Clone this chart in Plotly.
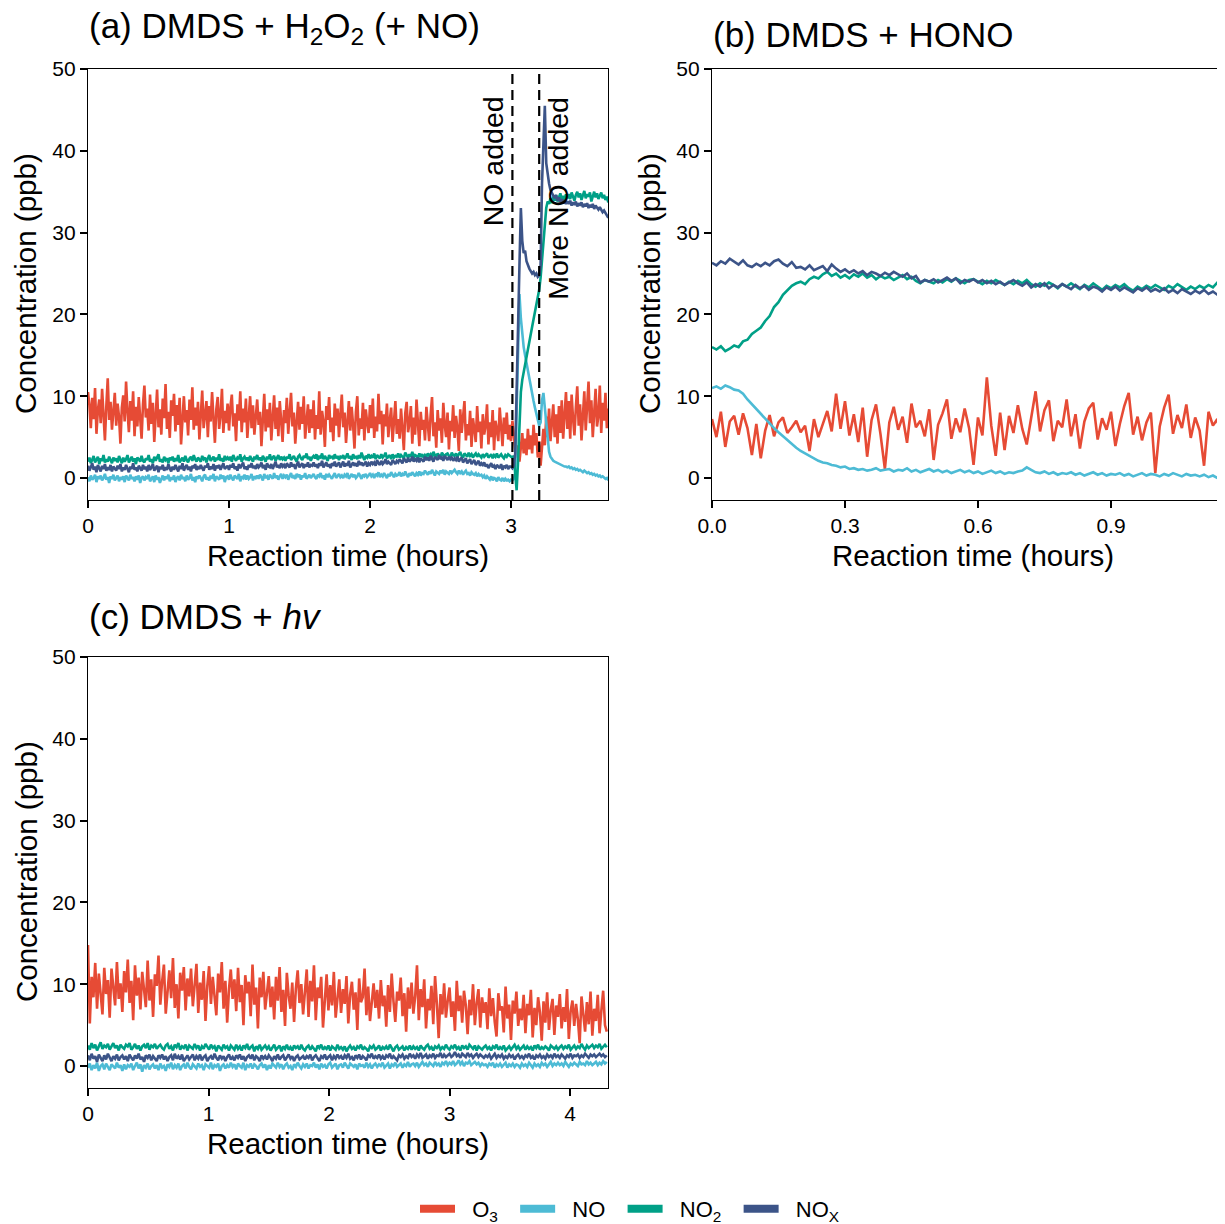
import numpy as np
import plotly.graph_objects as go

# ---------------- Panel (a): DMDS + H2O2 (+ NO)  (sampled every 0.01 h) ----------------
t_a = np.round(np.arange(370) * 0.01, 2)

o3_a = [
    10.5, 8.9, 6.1, 9.8, 7.2, 11.0, 5.4, 8.3, 9.6, 6.7, 10.9, 7.8, 4.6, 8.8, 12.2, 7.1, 9.3, 5.9, 8.0, 10.4,
    6.4, 9.1, 7.5, 4.2, 8.6, 10.1, 6.9, 11.8, 8.2, 5.6, 9.4, 7.0, 10.6, 5.1, 8.7, 6.3, 9.9, 7.7, 4.8, 9.0,
    11.3, 7.4, 8.5, 5.8, 10.2, 6.6, 9.2, 4.4, 7.9, 10.8, 6.2, 8.4, 5.3, 9.7, 7.3, 11.5, 6.0, 8.1, 4.9, 9.5,
    7.6, 10.3, 5.7, 8.9, 6.5, 9.8, 4.1, 7.8, 10.0, 6.8, 8.3, 5.2, 9.6, 7.1, 11.1, 5.9, 8.6, 6.4, 9.3, 4.7,
    8.0, 10.7, 6.1, 7.5, 9.4, 5.0, 8.8, 6.9, 10.5, 7.2, 4.3, 8.4, 9.9, 6.0, 7.7, 10.9, 5.5, 8.2, 6.7, 9.1,
    5.8, 8.7, 10.2, 6.3, 7.9, 4.5, 9.0, 7.0, 10.6, 5.6, 8.5, 6.8, 9.7, 4.9, 7.4, 10.0, 6.1, 8.9, 5.3, 7.6,
    9.6, 6.5, 8.1, 3.9, 7.8, 10.3, 5.7, 8.4, 6.2, 9.2, 4.6, 7.3, 10.1, 6.0, 8.6, 5.1, 9.4, 7.0, 4.4, 8.3,
    6.7, 9.8, 5.4, 7.9, 10.4, 6.3, 8.0, 4.2, 7.5, 9.3, 5.9, 8.7, 6.6, 10.0, 4.8, 7.2, 9.0, 5.5, 8.4, 6.1,
    9.5, 4.7, 7.7, 6.0, 10.6, 5.3, 8.2, 6.9, 3.8, 8.8, 7.1, 9.9, 5.6, 7.4, 4.5, 9.1, 6.4, 8.5, 5.0, 7.8,
    10.2, 6.2, 8.0, 4.3, 7.6, 9.4, 5.8, 8.7, 6.5, 3.6, 8.1, 10.0, 5.2, 7.3, 6.0, 9.2, 4.6, 8.4, 6.8, 5.5,
    8.9, 6.1, 9.7, 4.9, 7.5, 5.7, 10.3, 6.6, 8.2, 4.1, 7.8, 6.3, 9.1, 5.0, 7.0, 8.6, 4.4, 6.9, 9.4, 5.4,
    7.2, 4.8, 8.5, 6.0, 3.4, 7.9, 9.3, 5.6, 6.7, 8.8, 4.2, 7.4, 5.3, 9.6, 6.4, 3.9, 8.1, 5.9, 7.1, 4.6,
    8.7, 6.2, 4.5, 7.7, 9.9, 5.1, 6.8, 3.7, 8.3, 5.8, 7.3, 4.3, 9.2, 6.5, 5.0, 8.0, 3.5, 7.0, 5.7, 8.9,
    4.9, 7.6, 6.1, 3.3, 8.4, 5.5, 7.1, 9.4, 4.6, 6.6, 5.2, 8.2, 3.8, 7.3, 6.0, 4.4, 8.8, 5.6, 6.9, 3.6,
    7.8, 5.3, 6.4, 9.0, 4.1, 6.8, 5.0, 8.3, 3.4, 7.0, 5.9, 4.5, 8.6, 6.2, 3.9, 7.4, 5.4, 8.0, 4.7, 6.5,
    4.5, 7.0, 5.0, 3.5, 2.5, 4.0, 2.0, 3.5, 5.5, 3.0, 4.8, 2.8, 6.0, 3.5, 5.2, 3.0, 6.5, 4.0, 5.5, 2.5,
    4.5, 1.5, 3.5, 6.0, 4.0, 7.5, 5.0, 8.5, 4.5, 7.0, 9.0, 5.0, 7.8, 4.2, 8.8, 5.5, 9.5, 4.8, 7.2, 10.5,
    6.0, 9.4, 4.8, 10.2, 7.3, 5.2, 8.6, 11.2, 6.4, 9.0, 4.6, 7.8, 10.6, 5.8, 8.2, 11.8, 6.7, 9.5, 5.0, 8.8,
    10.9, 6.3, 7.6, 11.3, 5.5, 9.2, 7.0, 10.4, 6.1, 8.5,
]

no_a = [
    0.1, -0.4, 0.3, -0.2, 0.0, 0.4, -0.5, 0.2, -0.1, 0.3, -0.3, 0.0, 0.5, -0.2, 0.1, -0.6, 0.2, -0.1, 0.4, -0.3,
    0.0, 0.3, -0.4, 0.1, -0.2, 0.2, -0.5, 0.3, 0.0, -0.3, 0.4, -0.1, 0.1, -0.4, 0.2, -0.2, 0.3, -0.6, 0.0, 0.2,
    -0.3, 0.1, -0.1, 0.4, -0.4, 0.0, 0.2, -0.5, 0.3, -0.2, 0.1, -0.6, 0.0, 0.3, -0.3, 0.2, -0.1, 0.4, -0.4, 0.1,
    -0.2, 0.3, -0.5, 0.0, 0.2, -0.3, 0.4, -0.1, 0.1, -0.4, 0.3, -0.2, 0.0, 0.5, -0.3, 0.1, -0.5, 0.2, -0.1, 0.3,
    0.0, -0.4, 0.2, 0.4, -0.2, 0.1, -0.3, 0.3, -0.1, 0.5, -0.4, 0.2, 0.0, -0.2, 0.4, -0.1, 0.3, -0.5, 0.1, 0.2,
    -0.2, 0.4, 0.0, -0.3, 0.3, 0.1, -0.1, 0.5, -0.4, 0.2, 0.0, 0.4, -0.2, 0.3, -0.1, 0.1, 0.5, -0.3, 0.2, 0.0,
    0.3, -0.1, 0.4, 0.1, -0.3, 0.5, 0.0, 0.2, -0.2, 0.4, 0.1, -0.1, 0.6, 0.0, 0.3, -0.2, 0.2, 0.5, -0.1, 0.3,
    0.1, 0.4, -0.2, 0.3, 0.6, 0.0, 0.2, -0.1, 0.5, 0.2, 0.4, -0.2, 0.3, 0.1, 0.6, -0.1, 0.2, 0.4, 0.0, 0.3,
    0.5, 0.1, -0.1, 0.4, 0.2, 0.6, 0.0, 0.3, -0.2, 0.5, 0.1, 0.4, 0.2, -0.1, 0.3, 0.6, 0.0, 0.2, 0.5, 0.1,
    0.3, 0.0, 0.4, 0.2, 0.6, -0.1, 0.3, 0.5, 0.1, 0.4, 0.0, 0.2, 0.6, 0.3, -0.1, 0.4, 0.2, 0.5, 0.1, 0.3,
    0.6, 0.2, 0.4, 0.0, 0.5, 0.3, 0.7, 0.1, 0.4, 0.2, 0.6, 0.3, 0.0, 0.5, 0.2, 0.7, 0.4, 0.1, 0.5, 0.3,
    0.4, 0.7, 0.2, 0.5, 0.3, 0.8, 0.4, 0.1, 0.6, 0.3, 0.7, 0.5, 0.2, 0.6, 0.4, 0.8, 0.3, 0.6, 0.5, 0.9,
    0.6, 0.4, 0.8, 0.5, 1.0, 0.6, 0.3, 0.8, 0.7, 0.5, 0.9, 0.6, 1.0, 0.4, 0.8, 0.7, 0.5, 0.9, 0.6, 0.8,
    1.0, 0.7, 0.5, 0.9, 0.6, 0.8, 0.4, 0.7, 0.9, 0.5, 0.6, 0.3, 0.7, 0.5, 0.4, 0.6, 0.2, 0.5, 0.3, 0.4,
    0.1, 0.3, -0.1, 0.2, 0.0, -0.2, 0.2, -0.3, 0.0, -0.1, -0.4, 0.1, -0.2, -0.3, 0.0, -0.4, -0.1, -0.3, -0.2, -0.4,
    -0.2, -0.3, -0.1, 0.5, 8.0, 17.0, 22.5, 19.5, 17.5, 16.0, 15.0, 14.0, 13.0, 12.0, 11.0, 10.2, 9.4, 8.6, 7.8, 7.0,
    6.4, 6.8, 9.5, 10.4, 8.5, 6.0, 4.2, 3.2, 2.6, 2.3, 2.1, 2.0, 1.9, 1.8, 1.7, 1.6, 1.6, 1.5, 1.4, 1.4,
    1.3, 1.4, 1.2, 1.3, 1.1, 1.2, 1.0, 1.1, 0.9, 1.0, 0.9, 0.7, 0.9, 0.8, 0.6, 0.7, 0.5, 0.6, 0.4, 0.5,
    0.3, 0.4, 0.2, 0.3, 0.1, 0.2, 0.0, -0.1, 0.0, -0.3,
]

no2_a = [
    2.0, 2.5, 1.8, 2.3, 2.7, 1.9, 2.2, 2.6, 1.7, 2.4, 2.1, 2.8, 1.9, 2.3, 2.0, 2.6, 2.2, 1.8, 2.5, 2.1,
    2.4, 1.9, 2.7, 2.2, 1.8, 2.5, 2.0, 2.3, 2.8, 1.9, 2.2, 2.6, 2.0, 2.4, 1.7, 2.5, 2.3, 2.0, 2.7, 2.1,
    1.9, 2.4, 2.2, 2.8, 2.0, 2.3, 1.8, 2.6, 2.1, 2.5, 2.9, 2.0, 2.3, 1.9, 2.6, 2.2, 2.4, 1.8, 2.5, 2.2,
    2.6, 2.0, 2.4, 2.1, 2.8, 1.9, 2.3, 2.5, 2.0, 2.7, 2.2, 1.9, 2.4, 2.6, 2.1, 2.8, 2.3, 2.0, 2.5, 2.2,
    2.0, 2.7, 2.3, 2.5, 1.9, 2.4, 2.8, 2.1, 2.3, 2.6, 2.0, 2.5, 2.2, 2.9, 2.1, 2.4, 2.0, 2.7, 2.3, 2.5,
    2.2, 2.6, 2.0, 2.8, 2.4, 2.1, 2.5, 2.3, 2.9, 2.0, 2.4, 2.6, 2.2, 2.5, 2.1, 2.7, 2.3, 2.0, 2.6, 2.4,
    2.8, 2.2, 2.5, 2.1, 2.7, 2.4, 2.0, 2.6, 2.3, 2.9, 2.2, 2.5, 2.7, 2.1, 2.4, 2.8, 2.2, 2.6, 2.3, 2.5,
    2.1, 2.6, 2.4, 2.9, 2.2, 2.5, 2.7, 2.3, 2.0, 2.6, 2.8, 2.4, 2.2, 2.7, 2.5, 3.0, 2.3, 2.6, 2.1, 2.5,
    2.7, 2.4, 2.9, 2.2, 2.6, 2.5, 3.0, 2.3, 2.7, 2.4, 2.1, 2.8, 2.5, 2.6, 2.3, 2.9, 2.4, 2.7, 2.2, 2.6,
    2.5, 2.8, 2.3, 2.6, 3.0, 2.4, 2.7, 2.2, 2.9, 2.5, 2.6, 2.3, 2.8, 2.4, 3.1, 2.6, 2.2, 2.7, 2.5, 2.9,
    2.4, 2.7, 2.5, 3.0, 2.3, 2.8, 2.6, 2.4, 2.9, 2.5, 2.7, 3.1, 2.4, 2.6, 2.8, 2.3, 2.9, 2.5, 2.7, 2.6,
    3.0, 2.5, 2.8, 2.6, 2.4, 3.1, 2.7, 2.5, 2.9, 2.6, 3.2, 2.5, 2.8, 2.7, 2.4, 3.0, 2.6, 2.9, 2.5, 2.8,
    2.6, 3.0, 2.7, 2.9, 2.5, 3.2, 2.8, 2.6, 3.0, 2.7, 2.5, 3.1, 2.8, 2.6, 2.9, 3.0, 2.7, 2.5, 3.1, 2.8,
    2.7, 3.0, 2.6, 2.9, 3.2, 2.7, 2.5, 3.0, 2.8, 2.6, 3.1, 2.7, 2.9, 2.5, 2.8, 3.0, 2.6, 2.9, 2.7, 2.5,
    2.9, 2.6, 2.8, 3.0, 2.5, 2.7, 2.9, 2.4, 2.8, 2.6, 3.0, 2.5, 2.7, 2.9, 2.6, 2.4, 2.8, 2.6, 2.9, 2.7,
    2.6, 2.5, 2.7, 0.5, -1.5, 2.0, 7.0, 10.5, 12.0, 13.0, 14.0, 14.9, 15.8, 16.7, 17.6, 18.5, 19.4, 20.3, 21.2, 22.1,
    23.0, 24.5, 26.5, 29.0, 31.5, 33.0, 33.8, 33.5, 34.2, 33.6, 34.4, 33.9, 34.6, 33.8, 34.3, 34.8, 34.0, 34.5, 33.9, 34.7,
    34.2, 34.7, 34.1, 34.9, 34.4, 33.9, 34.6, 35.0, 34.3, 34.8, 34.0, 34.5, 35.1, 34.2, 34.7, 34.4, 34.9, 33.8, 34.6, 35.0,
    34.3, 34.8, 34.1, 34.5, 34.9, 34.2, 34.6, 34.0, 34.4, 33.7,
]

nox_a = [
    1.5, 0.9, 1.3, 1.8, 1.0, 1.4, 0.7, 1.6, 1.2, 0.8, 1.5, 1.1, 1.7, 0.9, 1.3, 1.0, 1.6, 0.8, 1.4, 1.2,
    0.9, 1.5, 1.1, 1.7, 0.8, 1.3, 1.0, 1.6, 1.2, 0.7, 1.4, 1.1, 1.8, 1.0, 1.3, 0.8, 1.5, 1.2, 0.9, 1.6,
    1.1, 1.4, 0.8, 1.6, 1.0, 1.3, 1.7, 0.9, 1.2, 1.5, 0.7, 1.4, 1.1, 1.6, 0.9, 1.3, 1.0, 1.7, 1.2, 0.8,
    1.4, 1.0, 1.6, 1.2, 0.8, 1.5, 1.1, 1.8, 0.9, 1.3, 1.6, 1.0, 1.4, 0.8, 1.5, 1.2, 1.7, 1.0, 1.3, 1.1,
    1.6, 1.2, 0.9, 1.5, 1.3, 1.8, 1.0, 1.4, 1.1, 1.7, 0.9, 1.5, 1.2, 1.6, 1.0, 1.4, 1.8, 1.1, 1.3, 1.5,
    1.0, 1.6, 1.3, 1.8, 1.1, 1.4, 0.9, 1.7, 1.2, 1.5, 1.9, 1.1, 1.4, 1.0, 1.6, 1.3, 1.8, 1.2, 1.5, 1.1,
    1.7, 1.3, 1.5, 1.9, 1.2, 1.6, 1.0, 1.8, 1.4, 1.3, 1.7, 1.1, 1.5, 2.0, 1.3, 1.6, 1.2, 1.8, 1.4, 1.6,
    1.2, 1.8, 1.5, 1.3, 1.9, 1.4, 1.7, 1.1, 1.6, 2.0, 1.3, 1.5, 1.8, 1.2, 1.7, 1.4, 1.9, 1.3, 1.6, 1.5,
    1.9, 1.4, 1.7, 1.2, 1.8, 1.5, 2.1, 1.3, 1.6, 1.9, 1.4, 1.7, 1.2, 1.8, 1.5, 2.0, 1.4, 1.6, 1.9, 1.3,
    1.7, 2.0, 1.4, 1.8, 1.5, 2.1, 1.3, 1.7, 1.9, 1.5, 1.8, 1.4, 2.1, 1.6, 1.9, 1.5, 1.7, 2.0, 1.4, 1.8,
    1.6, 2.0, 1.7, 1.9, 1.5, 2.2, 1.8, 1.6, 2.1, 1.7, 1.9, 2.3, 1.7, 2.0, 1.8, 1.6, 2.2, 1.9, 1.7, 2.1,
    1.9, 2.3, 2.0, 1.8, 2.4, 2.1, 1.9, 2.5, 2.0, 2.2, 2.6, 2.0, 2.3, 2.1, 2.5, 1.9, 2.4, 2.2, 2.0, 2.6,
    2.2, 2.5, 2.1, 2.7, 2.3, 2.0, 2.6, 2.4, 2.2, 2.8, 2.3, 2.5, 2.1, 2.7, 2.4, 2.2, 2.6, 2.3, 2.5, 2.1,
    2.4, 2.2, 2.6, 2.0, 2.3, 2.5, 1.9, 2.2, 2.4, 1.8, 2.1, 2.3, 1.7, 2.0, 2.2, 1.6, 1.9, 2.1, 1.5, 1.8,
    1.6, 1.9, 1.4, 1.7, 1.2, 1.6, 1.8, 1.3, 1.5, 1.1, 1.6, 1.4, 1.2, 1.7, 1.0, 1.5, 1.3, 1.6, 1.1, 1.4,
    1.4, 1.2, 1.5, 3.0, 12.0, 21.0, 26.0, 33.0, 29.0, 27.5, 27.8, 26.5, 26.0, 25.6, 25.3, 25.0, 25.2, 24.8, 25.0, 24.6,
    24.8, 26.0, 36.0, 42.0, 45.5, 38.5, 37.0, 36.0, 35.2, 34.8, 34.5, 34.2, 34.6, 33.9, 34.3, 33.8, 34.1, 33.6, 34.0, 33.5,
    33.8, 33.5, 33.9, 33.3, 33.7, 33.4, 33.8, 33.2, 33.6, 33.3, 33.7, 33.1, 33.5, 33.2, 33.6, 33.0, 33.4, 33.1, 33.5, 32.9,
    33.3, 33.0, 32.8, 33.1, 32.7, 32.5, 32.7, 32.3, 32.1, 31.8,
]

no_added_times = [3.01, 3.20]
no_added_labels = ["NO added", "More NO added"]
no_added_label_x = [2.872, 3.333]

# ---------------- Panel (b): DMDS + HONO  (sampled every 0.01 h) ----------------
t_b = np.round(np.arange(118) * 0.01, 2)

o3_b = [
    7.2, 5.0, 8.1, 3.8, 6.9, 7.6, 5.3, 7.9, 6.1, 2.8,
    6.6, 2.4, 5.8, 7.7, 5.1, 6.8, 7.4, 5.5, 6.2, 7.0,
    5.6, 6.4, 3.3, 7.2, 5.0, 6.7, 8.2, 5.7, 10.3, 6.0,
    9.4, 5.2, 7.8, 4.4, 8.6, 2.6, 7.1, 9.0, 5.4, 1.1,
    6.8, 8.7, 5.9, 7.5, 4.3, 9.1, 6.2, 7.0, 5.1, 8.4,
    2.2, 6.5, 7.9, 9.6, 4.8, 7.3, 5.6, 8.5, 6.1, 1.6,
    7.4, 5.2, 12.3, 6.4, 2.7, 8.0, 3.4, 7.6, 5.5, 8.9,
    6.0, 4.1, 7.2, 10.6, 5.7, 8.3, 9.5, 4.5, 7.0, 6.2,
    9.6, 5.1, 7.8, 3.6, 6.9, 8.5, 9.2, 4.7, 7.3, 5.9,
    8.1, 3.9, 6.6, 8.8, 10.4, 5.3, 7.5, 4.6, 6.8, 8.0,
    0.6, 6.3, 8.6, 10.2, 5.4, 7.7, 6.1, 9.0, 4.9, 7.4,
    5.8, 1.5, 8.1, 6.4, 7.2, 4.3, 6.9, 5.2,
]

no_b = [
    11.0, 11.2, 10.9, 11.3, 11.1, 10.8, 10.7, 10.3, 9.6, 9.0,
    8.4, 7.9, 7.2, 6.7, 6.1, 5.6, 5.1, 4.6, 4.2, 3.7,
    3.3, 3.0, 2.6, 2.4, 2.1, 1.9, 1.8, 1.6, 1.5, 1.3,
    1.4, 1.1, 1.2, 1.0, 1.1, 0.9, 1.0, 1.2, 0.9, 1.0,
    1.1, 0.8, 1.0, 0.9, 1.2, 0.8, 1.0, 0.7, 0.9, 1.1,
    0.8, 1.0, 0.7, 0.9, 0.6, 0.8, 1.0, 0.7, 0.9, 0.6,
    0.8, 0.5, 0.7, 0.9, 0.6, 0.8, 0.5, 0.7, 0.6, 0.8,
    0.9, 1.3, 1.0, 0.7, 0.6, 0.8, 0.5, 0.7, 0.4, 0.6,
    0.5, 0.7, 0.4, 0.6, 0.3, 0.5, 0.7, 0.4, 0.6, 0.3,
    0.5, 0.4, 0.6, 0.3, 0.5, 0.2, 0.4, 0.6, 0.3, 0.5,
    0.4, 0.2, 0.5, 0.3, 0.6, 0.4, 0.2, 0.5, 0.3, 0.4,
    0.2, 0.4, 0.1, 0.3, 0.0, 0.2, -0.1, 0.1,
]

no2_b = [
    16.0, 15.7, 16.1, 15.5, 15.8, 16.2, 16.0, 16.7, 16.9, 17.6,
    18.0, 18.4, 19.2, 19.8, 20.9, 21.5, 22.4, 22.9, 23.5, 23.8,
    24.0, 23.7, 24.3, 24.6, 24.4, 24.9, 25.2, 24.7, 25.0, 24.5,
    24.8, 24.4, 24.9, 24.6, 25.0, 24.5, 24.8, 24.3, 24.7, 24.4,
    24.6, 24.2, 24.5, 24.8, 24.3, 24.6, 24.1, 23.8, 24.2, 24.0,
    23.8, 24.2, 23.9, 24.3, 24.0, 24.4, 24.1, 23.8, 24.2, 24.3,
    24.0, 23.7, 24.1, 23.8, 24.2, 23.9, 23.6, 24.0, 23.7, 24.1,
    23.8, 24.2, 23.7, 23.4, 23.8, 23.5, 23.9, 23.6, 23.2, 23.7,
    23.4, 23.8, 23.5, 23.1, 23.6, 23.3, 23.8, 23.4, 23.0, 23.5,
    23.2, 23.6, 23.3, 23.7, 23.2, 22.9, 23.4, 23.1, 23.5, 23.2,
    23.6, 23.3, 23.0, 23.5, 23.2, 23.7, 23.3, 23.0, 23.4, 23.1,
    23.5, 23.2, 23.6, 23.3, 23.9, 23.4, 23.6, 23.2,
]

nox_b = [
    26.3, 26.0, 26.5, 26.2, 26.8, 26.4, 26.1, 26.6, 26.0, 25.8,
    26.2, 25.9, 26.3, 26.0, 26.5, 26.7, 26.2, 25.9, 26.4, 25.7,
    25.8, 25.5, 26.0, 25.4, 25.7, 25.9, 25.3, 26.1, 25.6, 25.2,
    25.5, 25.1, 25.4, 25.0, 25.3, 24.8, 25.2, 25.0, 24.7, 25.1,
    24.8, 25.2, 24.9, 24.6, 25.0, 24.4, 24.7, 23.9, 24.2, 24.0,
    24.3, 23.9, 24.2, 24.5, 24.1, 24.4, 23.8, 24.2, 24.0, 24.3,
    23.9, 24.2, 23.8, 24.1, 23.7, 24.0, 23.6, 23.9, 24.2, 23.8,
    23.5, 23.9, 23.3, 23.7, 23.4, 23.8, 23.2, 23.6, 23.3, 23.7,
    23.4, 23.1, 23.6, 23.2, 23.5, 23.0, 23.4, 23.2, 22.8, 23.3,
    23.0, 23.4, 22.9, 23.3, 23.0, 22.7, 23.2, 22.9, 23.3, 22.8,
    23.1, 22.8, 23.2, 22.7, 23.0, 22.6, 23.1, 22.8, 22.5, 22.9,
    22.6, 23.0, 22.5, 22.8, 22.4, 22.7, 22.3, 22.6,
]

# ---------------- Panel (c): DMDS + hv  (sampled every 0.015 h) ----------------
t_c = np.round(np.arange(288) * 0.015, 3)

o3_c = [
    14.8, 5.2, 10.9, 8.4, 12.6, 7.0, 11.3, 9.1, 6.3, 12.0, 8.8, 10.5, 5.9, 11.9, 9.6, 7.4, 12.7, 8.2, 10.1, 6.6,
    11.6, 9.0, 13.0, 7.7, 10.4, 5.6, 12.3, 8.6, 10.8, 6.9, 11.5, 9.3, 7.2, 12.9, 8.0, 10.6, 6.0, 11.2, 9.8, 13.5,
    7.5, 10.3, 12.4, 6.4, 9.5, 11.7, 8.3, 13.2, 7.1, 10.0, 5.8, 11.4, 9.2, 12.1, 6.8, 10.7, 8.5, 11.9, 7.3, 9.7,
    12.5, 6.5, 10.2, 8.1, 11.6, 5.5, 9.8, 12.2, 7.6, 10.9, 8.7, 6.2, 11.3, 9.0, 12.7, 7.0, 10.4, 5.3, 9.4, 11.8,
    8.2, 10.6, 6.7, 12.0, 7.8, 9.9, 5.0, 11.1, 8.9, 10.3, 6.1, 12.4, 7.5, 9.6, 4.6, 10.8, 8.4, 11.5, 6.9, 9.2,
    11.0, 7.2, 9.7, 5.7, 10.9, 8.0, 12.1, 6.6, 9.3, 4.9, 11.4, 8.6, 7.0, 10.2, 5.4, 9.5, 11.7, 7.7, 10.0, 6.3,
    9.1, 11.8, 6.0, 10.4, 7.9, 12.3, 5.6, 9.6, 8.3, 10.9, 4.7, 8.8, 11.2, 6.8, 9.9, 7.4, 11.5, 5.9, 8.5, 10.6,
    6.5, 9.4, 7.6, 11.0, 5.2, 8.7, 10.3, 6.9, 9.0, 4.4, 10.7, 7.8, 8.4, 11.9, 6.2, 9.7, 5.5, 8.1, 10.1, 7.1,
    9.3, 5.8, 10.5, 7.3, 8.6, 4.8, 9.9, 6.6, 11.3, 7.9, 5.4, 9.1, 8.0, 10.8, 6.1, 8.9, 4.2, 9.6, 7.0, 10.2,
    6.4, 8.5, 12.3, 5.6, 9.4, 7.2, 10.6, 4.6, 8.2, 6.8, 9.8, 5.1, 11.0, 7.6, 3.4, 8.8, 6.3, 10.1, 5.9, 8.0,
    9.6, 6.0, 7.9, 4.3, 10.4, 6.7, 8.6, 5.3, 9.2, 7.4, 3.9, 8.1, 6.2, 10.0, 5.0, 7.7, 9.4, 4.7, 8.4, 6.5,
    7.8, 4.5, 9.5, 6.1, 8.3, 5.4, 3.6, 8.9, 6.8, 7.3, 4.1, 9.7, 5.8, 7.5, 3.2, 8.0, 6.4, 9.1, 4.9, 7.0,
    5.6, 8.7, 4.0, 7.6, 6.2, 9.3, 3.5, 7.1, 5.0, 8.4, 6.6, 3.1, 7.9, 5.3, 9.0, 4.4, 6.9, 8.2, 3.8, 7.4,
    6.0, 8.8, 4.6, 7.2, 5.4, 9.4, 3.3, 6.7, 8.0, 4.9, 7.6, 5.7, 2.8, 8.5, 6.3, 4.2, 7.8, 5.1, 9.1, 3.7,
    7.0, 5.5, 8.7, 4.0, 6.8, 9.2, 5.0, 4.2,
]

no_c = [
    -0.2, 0.3, -0.5, 0.1, -0.3, 0.4, -0.6, 0.0, 0.2, -0.4, 0.3, -0.1, -0.5, 0.2, 0.0, -0.3, 0.4, -0.2, 0.1, -0.6,
    0.2, -0.4, 0.1, -0.1, 0.3, -0.5, 0.0, 0.4, -0.3, 0.2, -0.7, 0.1, -0.2, 0.3, -0.4, 0.0, 0.2, -0.3, 0.1, -0.5,
    0.3, -0.2, 0.0, -0.6, 0.2, -0.1, 0.4, -0.4, 0.1, -0.2, 0.3, -0.5, 0.0, 0.2, -0.3, 0.4, -0.1, -0.4, 0.2, 0.0,
    -0.3, 0.3, -0.1, 0.1, -0.5, 0.2, 0.0, -0.2, 0.4, -0.4, 0.1, -0.1, 0.3, -0.6, 0.0, 0.2, -0.3, 0.1, -0.2, 0.4,
    -0.1, 0.2, -0.4, 0.3, 0.0, -0.2, 0.4, -0.5, 0.1, -0.1, 0.3, -0.3, 0.2, 0.0, -0.4, 0.1, 0.3, -0.2, 0.2, -0.5,
    0.1, -0.3, 0.3, 0.0, -0.2, 0.4, -0.1, 0.2, -0.4, 0.1, 0.3, -0.2, 0.0, -0.5, 0.2, -0.1, 0.4, 0.0, -0.3, 0.2,
    -0.1, 0.3, -0.3, 0.1, 0.0, 0.4, -0.2, 0.2, -0.4, 0.3, -0.1, 0.1, -0.3, 0.2, 0.4, -0.2, 0.0, 0.3, -0.4, 0.1,
    0.2, -0.2, 0.4, 0.0, -0.3, 0.3, 0.1, -0.1, 0.2, -0.4, 0.3, 0.0, 0.1, -0.2, 0.4, -0.1, 0.2, -0.3, 0.1, 0.3,
    -0.1, 0.2, 0.0, 0.4, -0.2, 0.1, 0.3, -0.3, 0.2, 0.0, 0.4, -0.1, 0.1, 0.3, -0.2, 0.2, 0.0, 0.5, -0.1, 0.2,
    0.3, 0.0, 0.4, -0.1, 0.2, 0.5, 0.1, 0.3, -0.1, 0.4, 0.2, 0.0, 0.5, 0.1, 0.3, -0.1, 0.4, 0.2, 0.6, 0.1,
    0.4, 0.2, 0.6, 0.1, 0.3, 0.7, 0.2, 0.5, 0.0, 0.4, 0.3, 0.6, 0.1, 0.3, 0.5, 0.2, 0.4, 0.0, 0.3, 0.1,
    0.2, -0.1, 0.3, 0.1, 0.4, -0.2, 0.2, 0.0, 0.3, -0.1, 0.1, 0.4, -0.2, 0.2, 0.0, 0.3, -0.1, 0.2, 0.1, -0.2,
    0.3, 0.0, 0.2, -0.1, 0.4, 0.1, -0.2, 0.3, 0.0, 0.2, -0.1, 0.4, 0.1, 0.3, -0.1, 0.2, 0.5, 0.0, 0.3, 0.1,
    0.4, 0.1, 0.3, 0.0, 0.5, 0.2, -0.1, 0.3, 0.1, 0.4, 0.2, 0.0, 0.5, 0.2, 0.3, 0.1, 0.6, 0.2, 0.4, 0.1,
    0.3, 0.5, 0.1, 0.4, 0.2, 0.6, 0.3, 0.5,
]

no2_c = [
    2.5, 2.0, 2.8, 2.2, 2.6, 1.9, 2.4, 2.9, 2.1, 2.5, 2.3, 2.7, 2.0, 2.4, 2.8, 2.2, 2.5, 1.9, 2.6, 2.3,
    2.1, 2.6, 2.4, 2.8, 2.0, 2.3, 2.7, 2.1, 2.5, 1.9, 2.4, 2.6, 2.2, 2.8, 2.0, 2.5, 2.3, 2.7, 2.1, 2.4,
    2.6, 2.2, 2.0, 2.5, 2.7, 2.1, 2.4, 1.9, 2.6, 2.3, 2.8, 2.0, 2.4, 2.2, 2.6, 1.9, 2.5, 2.3, 2.1, 2.7,
    2.2, 2.5, 1.9, 2.4, 2.1, 2.7, 2.3, 2.0, 2.6, 2.2, 2.4, 1.8, 2.5, 2.3, 2.0, 2.6, 2.2, 2.4, 1.9, 2.5,
    2.3, 2.0, 2.6, 2.1, 2.4, 1.9, 2.5, 2.2, 2.7, 2.0, 2.3, 2.5, 1.8, 2.4, 2.1, 2.6, 2.0, 2.3, 2.5, 2.1,
    2.4, 1.9, 2.2, 2.6, 2.0, 2.3, 2.5, 1.8, 2.4, 2.1, 2.6, 2.0, 2.3, 1.9, 2.5, 2.2, 2.4, 2.0, 2.6, 2.1,
    1.9, 2.3, 2.5, 2.0, 2.4, 2.1, 1.8, 2.5, 2.2, 2.6, 2.0, 2.3, 2.1, 2.5, 1.9, 2.4, 2.2, 2.0, 2.6, 2.1,
    2.3, 2.0, 2.4, 1.8, 2.2, 2.5, 2.1, 2.3, 1.9, 2.4, 2.2, 2.6, 2.0, 2.3, 2.1, 1.8, 2.4, 2.2, 2.5, 2.0,
    2.2, 2.5, 1.9, 2.3, 2.1, 2.4, 2.0, 2.6, 2.2, 1.8, 2.3, 2.5, 2.0, 2.2, 2.4, 1.9, 2.3, 2.1, 2.5, 2.0,
    2.4, 2.1, 2.3, 1.9, 2.5, 2.2, 2.0, 2.4, 2.6, 2.1, 2.3, 1.9, 2.4, 2.2, 2.5, 2.0, 2.3, 2.1, 2.6, 2.2,
    2.0, 2.4, 2.2, 2.6, 2.1, 2.3, 1.9, 2.5, 2.2, 2.4, 2.0, 2.6, 2.3, 2.1, 2.5, 1.9, 2.4, 2.2, 2.0, 2.3,
    2.5, 2.1, 2.3, 1.9, 2.4, 2.2, 2.6, 2.0, 2.3, 2.1, 2.5, 1.9, 2.2, 2.4, 2.0, 2.3, 2.6, 2.1, 2.4, 2.0,
    2.2, 2.5, 2.0, 2.4, 2.1, 2.3, 1.9, 2.5, 2.2, 2.6, 2.0, 2.3, 2.1, 2.4, 2.2, 1.9, 2.5, 2.3, 2.1, 2.4,
    2.0, 2.3, 2.5, 2.1, 2.4, 2.2, 2.6, 2.0, 2.3, 2.5, 2.1, 2.4, 2.2, 2.7, 2.3, 2.0, 2.5, 2.2, 2.4, 2.6,
    2.2, 2.5, 2.3, 2.7, 2.1, 2.4, 2.6, 2.3,
]

nox_c = [
    1.3, 0.7, 1.5, 0.9, 1.2, 0.5, 1.4, 1.0, 0.6, 1.3, 0.8, 1.5, 1.1, 0.6, 1.2, 0.9, 1.4, 0.7, 1.1, 1.3,
    0.8, 1.2, 0.6, 1.4, 1.0, 0.7, 1.3, 0.9, 1.5, 0.8, 1.1, 0.5, 1.3, 1.0, 1.4, 0.7, 1.2, 0.9, 0.6, 1.3,
    1.0, 1.4, 0.8, 1.2, 0.6, 1.1, 1.3, 0.7, 1.5, 0.9, 1.2, 0.8, 1.4, 0.6, 1.0, 1.3, 0.8, 1.1, 1.4, 0.7,
    1.2, 0.9, 1.4, 0.7, 1.1, 1.3, 0.6, 1.0, 1.2, 0.8, 1.5, 1.0, 0.7, 1.3, 0.9, 1.2, 0.6, 1.1, 1.4, 0.8,
    1.1, 0.7, 1.3, 1.0, 1.4, 0.8, 1.2, 0.6, 1.1, 1.3, 0.9, 1.4, 0.7, 1.2, 1.0, 0.6, 1.3, 0.9, 1.2, 0.8,
    1.3, 1.0, 0.6, 1.2, 0.9, 1.4, 0.8, 1.1, 1.3, 0.7, 1.0, 1.4, 0.9, 1.2, 0.6, 1.1, 1.3, 0.8, 1.0, 1.2,
    0.8, 1.2, 1.0, 1.4, 0.7, 1.1, 1.3, 0.9, 0.6, 1.2, 1.0, 1.4, 0.8, 1.1, 1.3, 0.7, 1.2, 0.9, 1.4, 1.0,
    1.2, 0.8, 1.3, 1.0, 1.5, 0.9, 1.1, 0.7, 1.3, 1.0, 1.4, 0.8, 1.2, 1.0, 0.7, 1.3, 1.1, 1.5, 0.9, 1.2,
    1.0, 1.4, 0.9, 1.2, 0.8, 1.3, 1.1, 1.5, 0.9, 1.2, 1.0, 0.7, 1.3, 1.1, 1.4, 0.9, 1.2, 1.0, 1.5, 1.1,
    1.3, 0.9, 1.4, 1.1, 1.6, 1.0, 1.2, 1.4, 0.9, 1.3, 1.1, 1.5, 1.0, 1.3, 1.2, 1.6, 1.0, 1.4, 1.1, 1.3,
    1.5, 1.1, 1.3, 1.7, 1.2, 1.4, 1.0, 1.5, 1.3, 1.1, 1.6, 1.2, 1.4, 1.0, 1.3, 1.5, 1.1, 1.4, 1.2, 1.0,
    1.3, 1.1, 1.4, 0.9, 1.2, 1.5, 1.0, 1.3, 1.1, 1.4, 0.9, 1.2, 1.0, 1.4, 1.1, 1.3, 0.8, 1.2, 1.4, 1.0,
    1.2, 0.9, 1.3, 1.1, 1.5, 1.0, 1.2, 0.8, 1.3, 1.1, 1.4, 1.0, 1.2, 0.9, 1.4, 1.1, 1.3, 1.0, 1.5, 1.1,
    1.3, 1.0, 1.4, 1.2, 0.9, 1.3, 1.1, 1.5, 1.0, 1.3, 1.2, 1.4, 1.0, 1.3, 1.1, 1.5, 1.2, 1.0, 1.4, 1.2,
    1.4, 1.1, 1.3, 1.5, 1.2, 1.4, 1.1, 1.3,
]

# ---------------- Labels / ticks ----------------
species = ["O<sub>3</sub>", "NO", "NO<sub>2</sub>", "NO<sub>X</sub>"]
colors = ["#E64B35", "#4DBBD5", "#00A087", "#3C5488"]
y_ticks = [0, 10, 20, 30, 40, 50]
x_ticks_a = [0, 1, 2, 3]
x_ticks_b = [0.0, 0.3, 0.6, 0.9]
x_ticktext_b = ["0.0", "0.3", "0.6", "0.9"]
x_ticks_c = [0, 1, 2, 3, 4]
titles = ["(a) DMDS + H<sub>2</sub>O<sub>2</sub> (+ NO)", "(b) DMDS + HONO", "(c) DMDS + <i>hv</i>"]
x_title = "Reaction time (hours)"
y_title = "Concentration (ppb)"

# ---------------- Figure ----------------
W, H = 1225, 1224
OFF = 8  # page body margin of the viewer
FONT = "Liberation Sans, Arial, sans-serif"
NB = "\u00a0"

def px_x(p):
    return (p - OFF) / W

def px_y(p):
    return 1 - (p - OFF) / H

fig = go.Figure()

panels = [
    (t_a, [o3_a, no_a, no2_a, nox_a], "x", "y"),
    (t_b, [o3_b, no_b, no2_b, nox_b], "x2", "y2"),
    (t_c, [o3_c, no_c, no2_c, nox_c], "x3", "y3"),
]
for t, series, xa, ya in panels:
    for name, col, vals in zip(species, colors, series):
        fig.add_trace(go.Scatter(x=t[:len(vals)], y=vals, mode="lines", name=name,
                                 line=dict(color=col, width=2.6),
                                 xaxis=xa, yaxis=ya, showlegend=False,
                                 hoverinfo="skip"))

# legend-only entries with thick swatches
for name, col in zip(species, colors):
    fig.add_trace(go.Scatter(x=[None], y=[None], mode="lines",
                             name=NB * 2 + name + NB * 2,
                             line=dict(color=col, width=8), showlegend=True,
                             xaxis="x", yaxis="y"))

axis_common = dict(showline=True, linecolor="black", linewidth=1.3, mirror=True,
                   ticks="outside", ticklen=7, tickwidth=2, tickcolor="black",
                   showgrid=False, zeroline=False, automargin=False,
                   tickfont=dict(size=21, color="black", family=FONT))

# panel (b) continues past the right edge of the picture (443.3 px per hour)
b_right_px = 1225 + OFF
b_range_max = (b_right_px - 712) / 443.3

dom_x_left = [px_x(88), px_x(608)]
dom_x_right = [px_x(712), 1.0]
dom_y_top = [px_y(500), px_y(69)]
dom_y_bot = [px_y(1088), px_y(657)]

fig.update_layout(
    xaxis=dict(axis_common, domain=dom_x_left, range=[0, 3.688], tickvals=x_ticks_a, anchor="y"),
    yaxis=dict(axis_common, domain=dom_y_top, range=[-2.69, 50], tickvals=y_ticks, anchor="x"),
    xaxis2=dict(axis_common, domain=dom_x_right, range=[0, b_range_max], tickvals=x_ticks_b,
                ticktext=x_ticktext_b, anchor="y2"),
    yaxis2=dict(axis_common, domain=dom_y_top, range=[-2.69, 50], tickvals=y_ticks, anchor="x2",
                mirror=False),
    xaxis3=dict(axis_common, domain=dom_x_left, range=[0, 4.315], tickvals=x_ticks_c, anchor="y3"),
    yaxis3=dict(axis_common, domain=dom_y_bot, range=[-2.69, 50], tickvals=y_ticks, anchor="x3"),
)

# dashed vertical lines for NO additions
for tv in no_added_times:
    fig.add_shape(type="line", xref="x", yref="y domain", x0=tv, x1=tv, y0=0, y1=1,
                  line=dict(color="black", width=2.2, dash="10px,6px"))

for lab, lx in zip(no_added_labels, no_added_label_x):
    fig.add_annotation(text=lab, x=lx, y=46.9, xref="x", yref="y", textangle=-90,
                       xanchor="center", yanchor="top", showarrow=False,
                       font=dict(size=28.5, color="black", family=FONT))

# panel titles
title_pos = [(87, 28), (711, 34), (87, 616)]
for txt, (tx, ty) in zip(titles, title_pos):
    fig.add_annotation(text=txt, x=px_x(tx), y=px_y(ty), xref="paper", yref="paper",
                       xanchor="left", yanchor="middle", showarrow=False,
                       font=dict(size=35, color="black", family=FONT))

# axis titles
for cx, cy in [(348, 555), (973, 555), (348, 1143)]:
    fig.add_annotation(text=x_title, x=px_x(cx), y=px_y(cy), xref="paper", yref="paper",
                       xanchor="center", yanchor="middle", showarrow=False,
                       font=dict(size=29.5, color="black", family=FONT))
for cx, cy in [(26, 284), (650, 284), (26, 872)]:
    fig.add_annotation(text=y_title, x=px_x(cx), y=px_y(cy), xref="paper", yref="paper",
                       xanchor="center", yanchor="middle", textangle=-90, showarrow=False,
                       font=dict(size=29.5, color="black", family=FONT))

fig.update_layout(
    width=W, height=H,
    margin=dict(l=0, r=0, t=0, b=0, autoexpand=False),
    paper_bgcolor="white", plot_bgcolor="white",
    font=dict(family=FONT, color="black"),
    showlegend=True,
    legend=dict(orientation="h", x=px_x(636), xanchor="center", y=px_y(1209), yanchor="middle",
                font=dict(size=22, color="black", family=FONT), bgcolor="rgba(0,0,0,0)",
                itemwidth=35, tracegroupgap=0),
)

fig.write_html("out.html")
